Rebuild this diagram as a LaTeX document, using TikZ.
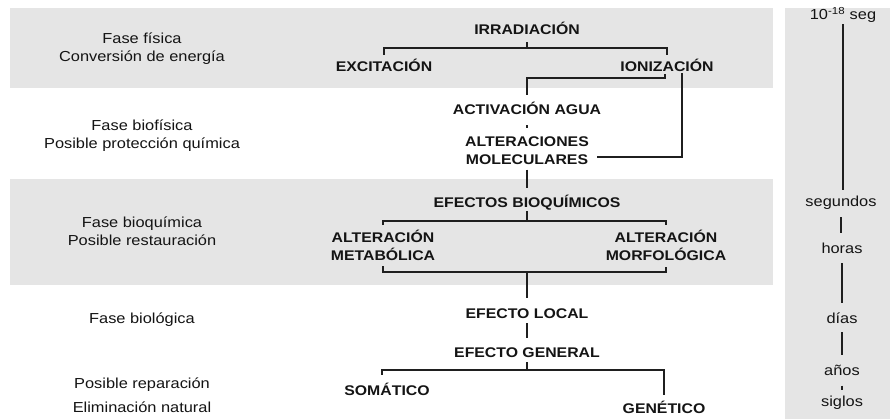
\documentclass[tikz,border=0pt]{standalone}
\usepackage{fontspec}
\setmainfont{Liberation Sans}[FakeStretch=1.13]
\begin{document}
\begin{tikzpicture}[x=1pt,y=-1pt,
  band/.style={fill=gray!20,draw=none},
  lab/.style={font=\fontsize{14}{17.5}\selectfont\bfseries,inner sep=0pt,text height=10pt,text depth=0pt,text=black!92},
  labtwo/.style={font=\fontsize{14}{17.5}\selectfont\bfseries,inner sep=0pt,align=center,text=black!92},
  phase/.style={font=\fontsize{14.5}{18}\selectfont,inner sep=0pt,align=center,text=black!92},
  timelab/.style={font=\fontsize{14.5}{16}\selectfont,inner sep=0pt,text height=10pt,text depth=3pt,text=black!92},
  link/.style={draw=black!88,line width=1.7pt},
  tlink/.style={draw=black!88,line width=1.5pt}
]
\useasboundingbox (0,0) rectangle (890,419);
\fill[white] (0,0) rectangle (890,419);
\fill[band] (10,8) rectangle (773,88);
\fill[band] (10,179) rectangle (773,285);
\fill[band] (785,8) rectangle (890,419);

% left phase labels
\node[phase] (p1) at (142,49) {Fase física\\Conversión de energía};
\node[phase] (p2) at (142,136) {Fase biofísica\\Posible protección química};
\node[phase] (p3) at (142,231) {Fase bioquímica\\Posible restauración};
\node[phase] (p4) at (142,320) {Fase biológica};
\node[phase,font=\fontsize{14.5}{24}\selectfont] (p5) at (142,395) {Posible reparación\\Eliminación natural};

% tree
\node[lab] (irr) at (527,30) {IRRADIACIÓN};
\node[lab] (exc) at (384,67) {EXCITACIÓN};
\node[lab] (ion) at (667,67) {IONIZACIÓN};
\node[lab] (act) at (527,110) {ACTIVACIÓN AGUA};
\node[labtwo] (alt) at (527,152) {\strut ALTERACIONES\\\strut MOLECULARES};
\node[lab] (efb) at (527,203) {EFECTOS BIOQUÍMICOS};
\node[labtwo] (met) at (383,248) {\strut ALTERACIÓN\\\strut METABÓLICA};
\node[labtwo] (mor) at (666,248) {\strut ALTERACIÓN\\\strut MORFOLÓGICA};
\node[lab] (loc) at (527,313) {EFECTO LOCAL};
\node[lab] (gen) at (527,352) {EFECTO GENERAL};
\node[lab] (som) at (387,390) {SOMÁTICO};
\node[lab] (gnt) at (664,408) {GENÉTICO};

\coordinate (yA) at (0,48);
\coordinate (yB) at (0,78);
\coordinate (yC) at (0,221);
\coordinate (yD) at (0,272);
\coordinate (yE) at (0,370);

\draw[link] ([yshift=-7pt]irr.south) -- (irr.south |- yA);
\draw[link] ([yshift=7pt]exc.north) |- (yA -| ion.north) -- ([yshift=7pt]ion.north);
\draw[link] ([xshift=-2pt,yshift=-2pt]ion.south) |- (yB -| act.north) -- ([yshift=10pt]act.north);
\draw[link] ([xshift=15pt,yshift=-1pt]ion.south) |- ([xshift=8pt,yshift=-5pt]alt.east);
\draw[link] ([yshift=-10pt]act.south) -- ([yshift=6.5pt]alt.north);
\draw[link] (alt.south) -- ([yshift=10pt]efb.north);
\draw[link] ([yshift=-3pt]efb.south) -- (efb.south |- yC);
\draw[link] ([yshift=4.5pt]met.north) |- (yC -| mor.north) -- ([yshift=4.5pt]mor.north);
\draw[link] (met.south) |- (yD -| mor.south) -- ([yshift=-1pt]mor.south);
\draw[link] (efb.south |- yD) -- ([yshift=10pt]loc.north);
\draw[link] ([yshift=-5pt]loc.south) -- ([yshift=9pt]gen.north);
\draw[link] ([yshift=-5pt]gen.south) -- (gen.south |- yE);
\draw[link] ([xshift=-5pt,yshift=10pt]som.north) |- (yE -| gnt.north) -- ([yshift=8pt]gnt.north);

% time column
\node[timelab] (t0) at (843,16) {10\textsuperscript{-18} seg};
\node[timelab] (t1) at (841,203) {segundos};
\node[timelab] (t2) at (842,250) {horas};
\node[timelab] (t3) at (842,320) {días};
\node[timelab] (t4) at (842,372) {años};
\node[timelab] (t5) at (842,403) {siglos};

\draw[tlink,shorten <=1.5pt,shorten >=6.5pt] (t0.south) -- (t0.south |- t1.north);
\draw[tlink,shorten <=7.5pt,shorten >=10pt] (t1.south) -- (t1.south |- t2.north);
\draw[tlink,shorten <=6.5pt,shorten >=10pt] (t2.south) -- (t3.north);
\draw[tlink,shorten <=5.5pt,shorten >=10pt] (t3.south) -- (t4.north);
\draw[tlink,shorten <=7pt,shorten >=6pt] (t4.south) -- (t5.north);
\end{tikzpicture}
\end{document}
